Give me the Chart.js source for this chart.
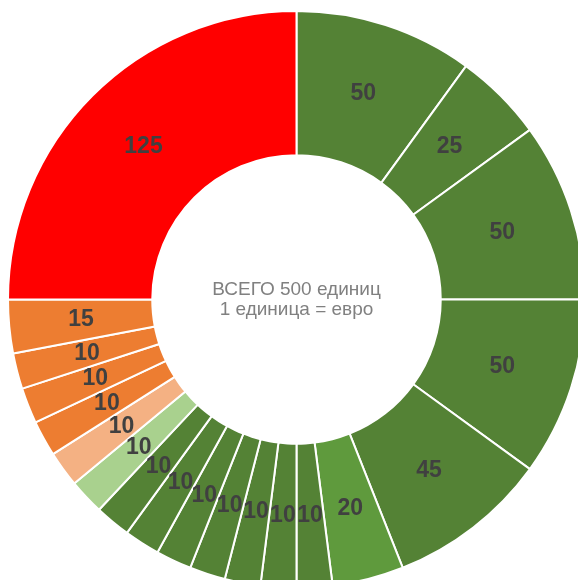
<!DOCTYPE html>
<html>
<head>
<meta charset="utf-8">
<script src="https://cdn.jsdelivr.net/npm/chart.js@4.4.1/dist/chart.umd.min.js"></script>
<style>
  html, body { margin: 0; padding: 0; background: #fff; overflow: hidden; width: 578px; height: 580px; }
  #wrap { position: absolute; left: 7px; top: 10px; width: 579px; height: 579px; }
</style>
</head>
<body>
<div id="wrap"><canvas id="chart"></canvas></div>
<script>
// slices clockwise from 12 o'clock
const sliceValues = [50, 25, 50, 50, 45, 20, 10, 10, 10, 10, 10, 10, 10, 10, 10, 10, 10, 10, 15, 125];
const sliceColors = [
  '#548235', '#548235', '#548235', '#548235', '#548235', '#5F9A3D',
  '#548235', '#548235', '#548235', '#548235', '#548235', '#548235', '#548235',
  '#A9D18E', '#F4B183', '#ED7D31', '#ED7D31', '#ED7D31', '#ED7D31', '#FF0000'
];
const centerLines = ['ВСЕГО 500 единиц', '1 единица = евро'];

const sliceLabels = {
  id: 'sliceLabels',
  afterDatasetsDraw(chart) {
    const ctx = chart.ctx;
    const meta = chart.getDatasetMeta(0);
    ctx.save();
    ctx.font = 'bold 23px "Liberation Sans", Arial, sans-serif';
    ctx.fillStyle = '#404040';
    ctx.textAlign = 'center';
    ctx.textBaseline = 'middle';
    meta.data.forEach((arc, i) => {
      const p = arc.getCenterPoint();
      ctx.fillText(String(sliceValues[i]), p.x, p.y);
    });
    // centre text
    const c = meta.data[0];
    ctx.font = '19px "Liberation Sans", Arial, sans-serif';
    ctx.fillStyle = '#808080';
    ctx.fillText(centerLines[0], c.x, c.y - 10);
    ctx.fillText(centerLines[1], c.x, c.y + 10);
    ctx.restore();
  }
};

new Chart(document.getElementById('chart').getContext('2d'), {
  type: 'doughnut',
  data: {
    labels: sliceValues.map(String),
    datasets: [{
      data: sliceValues,
      backgroundColor: sliceColors,
      borderColor: '#ffffff',
      borderWidth: 2,
      hoverOffset: 0
    }]
  },
  options: {
    responsive: true,
    maintainAspectRatio: false,
    animation: false,
    cutout: '50%',
    layout: { padding: 0 },
    plugins: {
      legend: { display: false },
      tooltip: { enabled: false }
    }
  },
  plugins: [sliceLabels]
});
</script>
</body>
</html>
